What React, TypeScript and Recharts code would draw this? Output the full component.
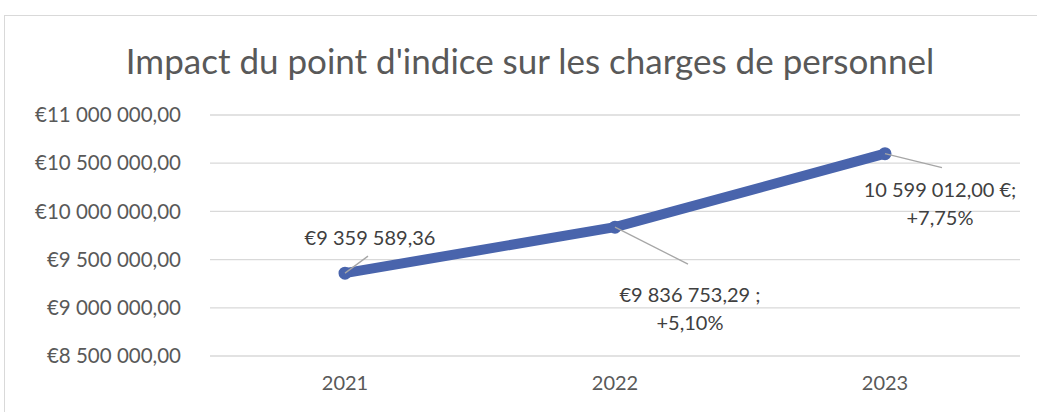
import React from "react";
import { LineChart, Line, XAxis, YAxis, CartesianGrid, LabelList } from "recharts";

const years = ["2021", "2022", "2023"];
const charges = [9359589.36, 9836753.29, 10599012.0];
const labelTexts = [
  ["€9 359 589,36"],
  ["€9 836 753,29 ;", "+5,10%"],
  ["10 599 012,00 €;", "+7,75%"],
];
const yTicks = [8500000, 9000000, 9500000, 10000000, 10500000, 11000000];
const title = "Impact du point d'indice sur les charges de personnel";

// label layout (leader end offset, text offset) relative to the point
const labelLayout = [
  { lx: 23, ly: -17, tx: 25, ty: -28 },
  { lx: 73, ly: 37, tx: 75, ty: 75 },
  { lx: 57, ly: 14, tx: 55, ty: 43 },
];

const data = years.map((y, i) => ({ year: y, value: charges[i] }));

const FONT = "Lato, 'Open Sans', sans-serif";
const TEXT = "#595959";

function fmt(v: number): string {
  const s = Math.round(v).toString();
  const grouped = s.replace(/\B(?=(\d{3})+(?!\d))/g, " ");
  return "€" + grouped + ",00";
}

const renderLabel = (props: any) => {
  const { x, y, index } = props;
  const lay = labelLayout[index];
  const lines = labelTexts[index];
  return (
    <g key={"lbl" + index}>
      <line x1={x} y1={y} x2={x + lay.lx} y2={y + lay.ly} stroke="#a6a6a6" strokeWidth={1.3} />
      {lines.map((t, j) => (
        <text
          key={j}
          x={x + lay.tx}
          y={y + lay.ty + j * 28}
          textAnchor="middle"
          fontFamily={FONT}
          fontSize={20}
          fill="#404040"
        >
          {t}
        </text>
      ))}
    </g>
  );
};

export default function App() {
  return (
    <div style={{ position: "absolute", left: 0, top: 0, width: 1037, height: 412, overflow: "hidden", background: "#fff" }}>
      <div style={{ position: "absolute", left: 4, top: 15, width: 1100, height: 500, border: "1px solid #d9d9d9", boxSizing: "border-box" }} />
      <div
        style={{
          position: "absolute",
          left: 0,
          top: 38,
          width: 1060,
          textAlign: "center",
          fontFamily: FONT,
          fontSize: 35,
          color: TEXT,
          lineHeight: "44px",
        }}
      >
        {title}
      </div>
      <div style={{ position: "absolute", left: 0, top: 0 }}>
        <LineChart width={1037} height={412} data={data} margin={{ top: 115, right: 17, bottom: 26, left: 0 }}>
          <CartesianGrid vertical={false} stroke="#d9d9d9" strokeWidth={1.3} />
          <XAxis
            dataKey="year"
            axisLine={false}
            tickLine={false}
            height={30}
            tickMargin={14}
            padding={{ left: 135, right: 135 }}
            tick={{ fill: TEXT, fontSize: 20, fontFamily: FONT }}
          />
          <YAxis
            domain={[8500000, 11000000]}
            ticks={yTicks}
            tickFormatter={fmt}
            axisLine={false}
            tickLine={false}
            width={210}
            tickMargin={23}
            tick={{ fill: TEXT, fontSize: 20.5, fontFamily: FONT }}
          />
          <Line
            type="linear"
            dataKey="value"
            stroke="#4964AC"
            strokeWidth={10}
            strokeLinecap="round"
            strokeLinejoin="round"
            dot={{ r: 5.5, fill: "#4964AC", stroke: "#4964AC", strokeWidth: 2 }}
            isAnimationActive={false}
          >
            <LabelList dataKey="value" content={renderLabel} />
          </Line>
        </LineChart>
      </div>
    </div>
  );
}
